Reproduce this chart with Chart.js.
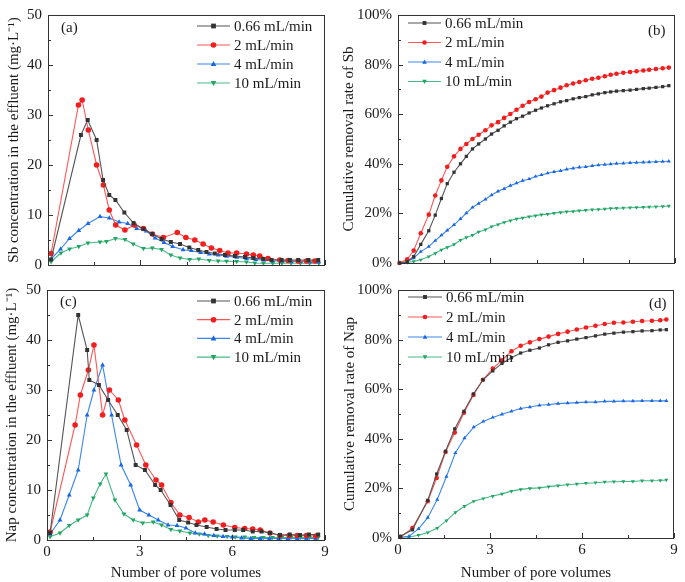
<!DOCTYPE html>
<html>
<head>
<meta charset="utf-8">
<script src="https://cdn.jsdelivr.net/npm/chart.js@4.4.0/dist/chart.umd.min.js"></script>
<style>
  body { margin: 0; background: #fff; }
  #wrap { position: relative; width: 685px; height: 582px; }
  .panel { position: absolute; }
</style>
</head>
<body>
<div id="wrap">
  <div class="panel" style="left:0;top:0;width:340px;height:280px"><canvas id="chartA"></canvas></div>
  <div class="panel" style="left:340px;top:0;width:345px;height:280px"><canvas id="chartB"></canvas></div>
  <div class="panel" style="left:0;top:275px;width:340px;height:307px"><canvas id="chartC"></canvas></div>
  <div class="panel" style="left:340px;top:275px;width:345px;height:307px"><canvas id="chartD"></canvas></div>
</div>
<script>
// Flow rates (legend)
const flowRates = ['0.66 mL/min', '2 mL/min', '4 mL/min', '10 mL/min'];

// Axis ticks
const xMajor = [0, 3, 6, 9];
const xMinor = [1.5, 4.5, 7.5];
const concMajor = [0, 10, 20, 30, 40, 50];
const concMinor = [5, 15, 25, 35, 45];
const rateMajor = [0, 20, 40, 60, 80, 100];
const rateMinor = [10, 30, 50, 70, 90];

// (a) Sb concentration in effluent, mg/L
const sbX066 = [0.1, 1.07, 1.29, 1.58, 1.79, 1.99, 2.19, 2.48, 2.78, 3.1, 3.39, 3.69, 3.99, 4.29, 4.59, 4.88, 5.15, 5.42, 5.75, 6.07, 6.4, 6.67, 6.99, 7.26, 7.59, 7.86, 8.13, 8.46, 8.78];
const sbC066 = [1.1, 26, 29, 25, 17, 14, 13, 10.5, 8.4, 7.2, 6.2, 5.2, 4.6, 4.2, 3.5, 3.0, 2.6, 2.3, 2.0, 1.8, 1.6, 1.4, 1.2, 1.0, 1.0, 1.0, 1.0, 1.0, 1.0];
const sbX2 = [0.1, 0.99, 1.11, 1.31, 1.58, 1.8, 1.99, 2.2, 2.5, 2.8, 3.1, 3.39, 3.75, 4.2, 4.48, 4.77, 5.04, 5.31, 5.58, 5.85, 6.13, 6.45, 6.67, 6.88, 7.15, 7.53, 7.8, 8.13, 8.4, 8.67];
const sbC2 = [2.3, 32, 33, 27, 20, 16, 11, 8, 7, 8, 7.3, 6.2, 5.5, 6.5, 5.5, 5.0, 4.2, 3.4, 2.9, 2.4, 2.4, 2.2, 2.0, 1.8, 1.3, 1.0, 0.9, 0.8, 0.8, 0.8];
const sbX4 = [0.1, 0.41, 0.7, 1.0, 1.3, 1.69, 1.99, 2.31, 2.59, 2.88, 3.19, 3.48, 3.77, 4.05, 4.39, 4.66, 4.96, 5.24, 5.53, 5.8, 6.13, 6.45, 6.75, 7.02, 7.3, 7.62, 7.9, 8.2, 8.5, 8.78];
const sbC4 = [1.2, 3.2, 5.3, 6.9, 8.3, 9.7, 9.4, 8.6, 8.3, 7.3, 6.8, 5.4, 4.5, 3.7, 3.05, 2.86, 2.5, 2.2, 2.0, 1.75, 1.55, 1.3, 1.1, 0.96, 0.85, 0.8, 0.7, 0.7, 0.65, 0.6];
const sbX10 = [0.1, 0.42, 0.7, 1.0, 1.3, 1.69, 1.9, 2.19, 2.5, 2.77, 3.1, 3.39, 3.69, 3.99, 4.29, 4.6, 4.9, 5.24, 5.53, 5.8, 6.13, 6.45, 6.72, 7.0, 7.3, 7.6, 7.9, 8.2, 8.5, 8.8];
const sbC10 = [0.65, 2.4, 3.2, 3.7, 4.4, 4.6, 4.7, 5.3, 5.1, 4.2, 3.3, 3.4, 3.1, 2.0, 1.4, 1.1, 1.2, 0.9, 0.8, 0.77, 0.7, 0.6, 0.4, 0.35, 0.35, 0.35, 0.35, 0.35, 0.35, 0.35];

// (b) cumulative removal rate of Sb, %
const sbRateX = [0.05, 0.3, 0.51, 0.74, 1.0, 1.21, 1.41, 1.6, 1.82, 2.03, 2.22, 2.42, 2.62, 2.84, 3.04, 3.25, 3.45, 3.65, 3.85, 4.05, 4.26, 4.47, 4.66, 4.86, 5.07, 5.28, 5.48, 5.69, 5.89, 6.1, 6.31, 6.51, 6.72, 6.91, 7.1, 7.32, 7.54, 7.75, 7.97, 8.16, 8.38, 8.6, 8.8];
const sbRate066 = [0, 0.5, 2.6, 7.5, 13, 19.3, 26, 32, 36.6, 40, 43, 46, 48, 50, 52, 53.5, 55.3, 56.8, 58.2, 59.2, 60.5, 61.6, 62.5, 63.4, 64.2, 65, 65.5, 66.2, 66.7, 67.1, 67.8, 68.2, 68.7, 69, 69.3, 69.5, 69.7, 70, 70.3, 70.5, 70.8, 71.1, 71.5];
const sbRate2 = [0, 1.5, 5, 12, 19.5, 27.2, 33.3, 38.8, 43, 46, 48, 50, 51.7, 53.5, 55.5, 56.8, 58.5, 60.1, 61.8, 63.4, 64.9, 66, 67.1, 68.7, 69.7, 70.7, 71.7, 72.4, 73, 73.7, 74.3, 74.7, 75.3, 75.9, 76.3, 76.7, 77, 77.3, 77.6, 77.9, 78.2, 78.5, 78.8];
const sbRate4 = [0, 0.5, 2, 4.6, 6.6, 9, 11.2, 13.2, 15.4, 17.8, 20.1, 22.4, 24, 25.7, 27.4, 28.9, 29.9, 31.2, 32.2, 33.2, 33.9, 34.9, 35.5, 36.2, 36.8, 37.2, 37.8, 38.2, 38.6, 38.8, 39.2, 39.5, 39.7, 39.9, 40.1, 40.2, 40.4, 40.5, 40.6, 40.7, 40.8, 40.9, 41];
const sbRate10 = [0, 0.2, 0.6, 1.3, 2.6, 3.9, 5.3, 6.3, 7.5, 9.2, 10.3, 11.2, 12.5, 13.4, 14.7, 15.5, 16.4, 17.1, 17.8, 18.2, 18.7, 19.1, 19.5, 19.7, 20.1, 20.4, 20.7, 20.8, 21.1, 21.3, 21.5, 21.6, 21.8, 22.0, 22.1, 22.2, 22.3, 22.4, 22.5, 22.6, 22.7, 22.8, 23];

// (c) Nap concentration in effluent, mg/L
const napX066 = [0.1, 1.01, 1.3, 1.37, 1.68, 1.98, 2.29, 2.58, 2.87, 3.17, 3.5, 3.68, 4.0, 4.28, 4.57, 4.84, 5.17, 5.49, 5.78, 6.08, 6.35, 6.66, 6.95, 7.22, 7.54, 7.86, 8.19, 8.48, 8.78];
const napC066 = [1.4, 45, 38, 32, 31, 28, 25, 22, 15, 14, 11, 10, 7, 4, 3.5, 3, 2.6, 2.2, 2, 2, 2, 1.7, 1.7, 1.4, 1, 1.1, 1, 1.1, 1.1];
const napX2 = [0.1, 0.91, 1.08, 1.34, 1.52, 1.8, 2.02, 2.31, 2.52, 2.9, 3.2, 3.53, 3.71, 4.01, 4.3, 4.6, 4.9, 5.11, 5.38, 5.71, 6.08, 6.4, 6.66, 6.9, 7.22, 7.54, 7.84, 8.1, 8.4, 8.7];
const napC2 = [1.6, 23, 29, 34, 39, 25, 30, 28, 24, 19, 15, 12, 11, 7.5, 5, 4.5, 3.6, 4.0, 3.6, 3.0, 2.5, 2.3, 2.2, 2.0, 1.4, 0.9, 0.9, 0.9, 0.9, 0.8];
const napX4 = [0.1, 0.42, 0.72, 1.01, 1.3, 1.52, 1.8, 2.09, 2.4, 2.71, 3.0, 3.3, 3.6, 3.92, 4.21, 4.5, 4.8, 5.1, 5.4, 5.7, 6.0, 6.3, 6.6, 6.9, 7.2, 7.5, 7.8, 8.1, 8.4, 8.7];
const napC4 = [1.2, 4, 9, 14, 25, 30, 35, 25, 15, 11, 6, 5, 4, 3, 2.9, 2.4, 1.4, 1.2, 0.9, 0.7, 0.6, 0.4, 0.3, 0.3, 0.3, 0.3, 0.3, 0.3, 0.3, 0.3];
const napX10 = [0.1, 0.42, 0.72, 1.01, 1.3, 1.5, 1.72, 1.91, 2.2, 2.49, 2.79, 3.1, 3.44, 3.71, 4.01, 4.3, 4.63, 4.93, 5.22, 5.51, 5.83, 6.1, 6.4, 6.7, 7.0, 7.3, 7.6, 7.9, 8.2, 8.5, 8.78];
const napC10 = [0.65, 1.4, 2.9, 4, 5, 8.4, 11.2, 13.2, 8, 5.2, 4, 3.4, 3.6, 3, 2.1, 1.8, 1.4, 1.2, 0.9, 0.8, 0.7, 0.6, 0.6, 0.5, 0.5, 0.5, 0.5, 0.5, 0.5, 0.5, 0.5];

// (d) cumulative removal rate of Nap, %
const napRateXa = [0.08, 0.47, 0.97, 1.26, 1.55, 1.85, 2.15, 2.46, 2.77, 3.09, 3.39, 3.7, 4.0, 4.3, 4.61, 4.91, 5.22, 5.53, 5.83, 6.13, 6.44, 6.74, 7.04, 7.35, 7.66, 7.96, 8.28, 8.55, 8.75];
const napRate066 = [0.7, 3.3, 15.2, 25.8, 35, 44, 51.1, 58.1, 63.8, 67.4, 70.4, 72.7, 74.6, 75.7, 76.6, 77.9, 78.9, 79.5, 80.2, 80.8, 81.5, 82.2, 82.6, 83, 83.2, 83.5, 83.6, 83.9, 84];
const napRate2 = [0.4, 4, 14.8, 24.2, 34.7, 42.5, 50.5, 57.7, 63.8, 68.3, 71.7, 75.3, 77.5, 78.9, 80.2, 81.2, 82.3, 83.2, 84.1, 84.9, 85.6, 86.3, 86.8, 86.9, 87.2, 87.5, 87.6, 87.8, 88.1];
const napRateXb = [0.08, 0.36, 0.67, 0.97, 1.28, 1.58, 1.87, 2.17, 2.47, 2.78, 3.09, 3.39, 3.7, 4.0, 4.3, 4.61, 4.91, 5.22, 5.53, 5.83, 6.13, 6.44, 6.74, 7.04, 7.35, 7.66, 7.96, 8.28, 8.55, 8.75];
const napRate4 = [0.3, 0.7, 3.7, 8.2, 15.5, 24.8, 34.3, 40.3, 44.7, 47, 48.6, 49.9, 51.1, 52.2, 52.8, 53.5, 53.8, 54.2, 54.4, 54.6, 54.8, 54.8, 55.1, 55.1, 55.2, 55.2, 55.3, 55.3, 55.3, 55.3];
const napRate10 = [0.3, 0.4, 1.1, 2.2, 4, 7, 10.3, 12.8, 14.8, 15.9, 16.9, 17.8, 18.9, 19.6, 20, 20.2, 20.7, 21.1, 21.5, 21.8, 22.1, 22.3, 22.6, 22.7, 22.8, 22.8, 23.1, 23.1, 23.2, 23.4];

// Series styles: line colour, marker colour, marker shape
const styles = [
  { line: '#555555', mark: '#333333', shape: 'rect' },
  { line: '#ff5555', mark: '#f01e1e', shape: 'circle' },
  { line: '#3a86ee', mark: '#1866e0', shape: 'triangle' },
  { line: '#45b987', mark: '#22a463', shape: 'down' }
];

const FONT = "'Liberation Serif', 'Times New Roman', serif";
const TXT = '#1a1a1a';

function drawMarker(ctx, shape, x, y, r, color) {
  ctx.fillStyle = color;
  ctx.beginPath();
  if (shape === 'rect') {
    ctx.rect(x - r * 0.85, y - r * 0.85, r * 1.7, r * 1.7);
  } else if (shape === 'circle') {
    ctx.arc(x, y, r, 0, Math.PI * 2);
  } else if (shape === 'triangle') {
    ctx.moveTo(x, y - r * 1.1);
    ctx.lineTo(x + r, y + r * 0.75);
    ctx.lineTo(x - r, y + r * 0.75);
    ctx.closePath();
  } else {
    ctx.moveTo(x, y + r * 1.1);
    ctx.lineTo(x + r, y - r * 0.75);
    ctx.lineTo(x - r, y - r * 0.75);
    ctx.closePath();
  }
  ctx.fill();
}

// Frame, inward ticks, legend and panel letter
const framePlugin = {
  id: 'frame',
  afterDraw(chart, args, opts) {
    const { ctx, chartArea: a, scales } = chart;
    ctx.save();
    ctx.strokeStyle = '#333';
    ctx.lineWidth = 1;
    ctx.strokeRect(a.left + 0.5, a.top + 0.5, a.right - a.left - 1, a.bottom - a.top);

    ctx.beginPath();
    xMajor.forEach(function(v) {
      const px = Math.round(scales.x.getPixelForValue(v)) + 0.5;
      ctx.moveTo(px, a.bottom); ctx.lineTo(px, a.bottom - 5);
    });
    xMinor.forEach(function(v) {
      const px = Math.round(scales.x.getPixelForValue(v)) + 0.5;
      ctx.moveTo(px, a.bottom); ctx.lineTo(px, a.bottom - 3);
    });
    opts.yMajor.forEach(function(v) {
      const py = Math.round(scales.y.getPixelForValue(v)) + 0.5;
      ctx.moveTo(a.left, py); ctx.lineTo(a.left + 5, py);
    });
    opts.yMinor.forEach(function(v) {
      const py = Math.round(scales.y.getPixelForValue(v)) + 0.5;
      ctx.moveTo(a.left, py); ctx.lineTo(a.left + 3, py);
    });
    ctx.stroke();

    // legend
    ctx.font = '15px ' + FONT;
    ctx.textBaseline = 'middle';
    ctx.textAlign = 'left';
    const lg = opts.legend;
    chart.data.datasets.forEach(function(ds, i) {
      const y = lg.y + i * lg.gap;
      const st = styles[i];
      ctx.strokeStyle = st.line;
      ctx.lineWidth = 1.2;
      ctx.beginPath();
      ctx.moveTo(lg.x, y); ctx.lineTo(lg.x + lg.w, y);
      ctx.stroke();
      drawMarker(ctx, st.shape, lg.x + lg.w / 2, y, lg.r, st.mark);
      ctx.fillStyle = TXT;
      ctx.fillText(ds.label, lg.x + lg.w + 4, y + 1);
    });

    // panel letter
    ctx.font = '15px ' + FONT;
    ctx.fillStyle = TXT;
    ctx.fillText(opts.tag.text, opts.tag.x, opts.tag.y);
    ctx.restore();
  }
};

function makePanel(id, cfg) {
  const ctx = document.getElementById(id);
  const datasets = cfg.series.map(function(s, i) {
    const st = styles[i];
    return {
      label: flowRates[i],
      data: s.x.map(function(x, j) { return { x: x, y: s.y[j] }; }),
      borderColor: st.line,
      backgroundColor: st.mark,
      pointBackgroundColor: st.mark,
      pointBorderColor: st.mark,
      pointBorderWidth: 0,
      pointStyle: st.shape === 'rect' ? 'rect' : (st.shape === 'circle' ? 'circle' : 'triangle'),
      pointRotation: st.shape === 'down' ? 180 : 0,
      pointRadius: cfg.pointR,
      borderWidth: 1.1,
      tension: 0,
      clip: false
    };
  });

  new Chart(ctx, {
    type: 'line',
    data: { datasets: datasets },
    options: {
      responsive: true,
      maintainAspectRatio: false,
      animation: false,
      layout: { padding: { top: cfg.padTop, right: cfg.padRight, left: 0, bottom: 0 } },
      plugins: {
        legend: { display: false },
        tooltip: { enabled: false },
        frame: { yMajor: cfg.yMajor, yMinor: cfg.yMinor, legend: cfg.legend, tag: cfg.tag }
      },
      scales: {
        x: {
          type: 'linear',
          min: 0,
          max: 9,
          grid: { display: false, drawTicks: false },
          border: { display: false },
          ticks: {
            display: cfg.showX,
            stepSize: 3,
            maxRotation: 0,
            padding: 3,
            color: TXT,
            font: { family: FONT, size: 15 }
          },
          title: {
            display: cfg.showX,
            text: 'Number of pore volumes',
            color: TXT,
            font: { family: FONT, size: 15 },
            padding: { top: 0, bottom: 0 }
          },
          afterFit: function(scale) { scale.height = cfg.xH; }
        },
        y: {
          min: 0,
          max: cfg.yMax,
          grid: { display: false, drawTicks: false },
          border: { display: false },
          ticks: {
            stepSize: cfg.yStep,
            padding: 6,
            color: TXT,
            font: { family: FONT, size: 15 },
            callback: function(v) { return cfg.percent ? v + '%' : v; }
          },
          title: {
            display: true,
            text: cfg.yTitle,
            color: TXT,
            font: { family: FONT, size: 15 },
            padding: { top: cfg.yTitlePad, bottom: 0 }
          },
          afterFit: function(scale) { scale.width = cfg.yW; }
        }
      }
    },
    plugins: [framePlugin]
  });
}

makePanel('chartA', {
  series: [{ x: sbX066, y: sbC066 }, { x: sbX2, y: sbC2 }, { x: sbX4, y: sbC4 }, { x: sbX10, y: sbC10 }],
  yMax: 50, yStep: 10, yMajor: concMajor, yMinor: concMinor, percent: false,
  yTitle: 'Sb concentration in the effluent (mg\u00B7L\u207B\u00B9)', yTitlePad: 5,
  yW: 48, xH: 15, padTop: 10, padRight: 15, showX: false, pointR: 2.8,
  legend: { x: 197, y: 26, gap: 19, w: 33, r: 2.8 },
  tag: { text: '(a)', x: 61, y: 28 }
});

makePanel('chartB', {
  series: [{ x: sbRateX, y: sbRate066 }, { x: sbRateX, y: sbRate2 }, { x: sbRateX, y: sbRate4 }, { x: sbRateX, y: sbRate10 }],
  yMax: 100, yStep: 20, yMajor: rateMajor, yMinor: rateMinor, percent: true,
  yTitle: 'Cumulative removal rate of Sb', yTitlePad: 0,
  yW: 58, xH: 17, padTop: 10, padRight: 10, showX: false, pointR: 2.3,
  legend: { x: 68, y: 23, gap: 19.5, w: 33, r: 2.3 },
  tag: { text: '(b)', x: 308, y: 31 }
});

makePanel('chartC', {
  series: [{ x: napX066, y: napC066 }, { x: napX2, y: napC2 }, { x: napX4, y: napC4 }, { x: napX10, y: napC10 }],
  yMax: 50, yStep: 10, yMajor: concMajor, yMinor: concMinor, percent: false,
  yTitle: 'Nap concentration in the effluent (mg\u00B7L\u207B\u00B9)', yTitlePad: 3,
  yW: 47, xH: 42, padTop: 10, padRight: 15, showX: true, pointR: 2.8,
  legend: { x: 197, y: 26, gap: 18.7, w: 33, r: 2.8 },
  tag: { text: '(c)', x: 60, y: 27 }
});

makePanel('chartD', {
  series: [{ x: napRateXa, y: napRate066 }, { x: napRateXa, y: napRate2 }, { x: napRateXb, y: napRate4 }, { x: napRateXb, y: napRate10 }],
  yMax: 100, yStep: 20, yMajor: rateMajor, yMinor: rateMinor, percent: true,
  yTitle: 'Cumulative removal rate of Nap', yTitlePad: 1,
  yW: 58, xH: 44, padTop: 11, padRight: 11, showX: true, pointR: 2.3,
  legend: { x: 68, y: 22, gap: 20, w: 34, r: 2.3 },
  tag: { text: '(d)', x: 309, y: 29 }
});
</script>
</body>
</html>
